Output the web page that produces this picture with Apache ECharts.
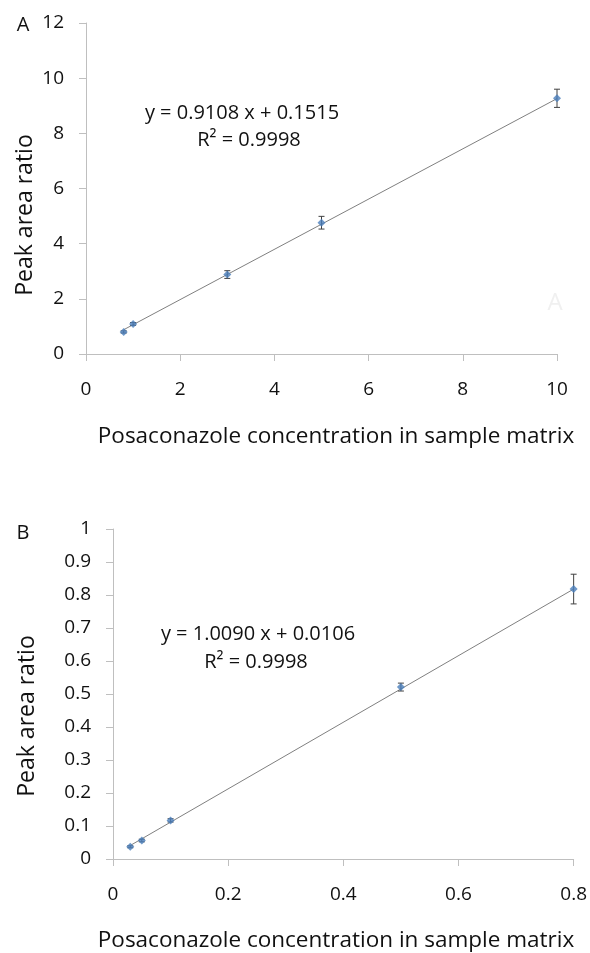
<!DOCTYPE html>
<html>
<head>
<meta charset="utf-8">
<script src="https://cdn.jsdelivr.net/npm/echarts@6/dist/echarts.min.js"></script>
<style>
  html, body { margin: 0; padding: 0; background: #fff; }
  #chart { width: 590px; height: 953px; }
</style>
</head>
<body>
<div id="chart"></div>
<script>
// panel A: calibration in sample matrix (high range)
var concA = [0.8, 1, 3, 5, 10];
var ratioA = [0.80, 1.09, 2.88, 4.76, 9.27];
var errA = [0.04, 0.05, 0.14, 0.23, 0.33];
var trendXA = [0.8, 10];
var trendYA = [0.88, 9.26];

// panel B: calibration in sample matrix (low range)
var concB = [0.03, 0.05, 0.1, 0.5, 0.8];
var ratioB = [0.037, 0.056, 0.117, 0.521, 0.818];
var errB = [0.003, 0.004, 0.005, 0.012, 0.045];
var trendXB = [0.03, 0.8];
var trendYB = [0.041, 0.818];

var eqA = ['y = 0.9108 x + 0.1515', 'R² = 0.9998'];
var eqB = ['y = 1.0090 x + 0.0106', 'R² = 0.9998'];
var xTitle = 'Posaconazole concentration in sample matrix';
var yTitle = 'Peak area ratio';

var FONT = '"Open Sans", sans-serif';
var AXIS_GRAY = '#bfbfbf';
var BLUE = '#4a7ebb';

function pairs(xs, ys) {
    return xs.map(function (x, i) { return [x, ys[i]]; });
}

function errData(xs, ys, es) {
    return xs.map(function (x, i) { return [x, ys[i] - es[i], ys[i] + es[i]]; });
}

// vertical error bar with caps
function renderErr(params, api) {
    var top = api.coord([api.value(0), api.value(2)]);
    var bot = api.coord([api.value(0), api.value(1)]);
    var w = 3;
    var st = { stroke: '#404040', lineWidth: 1 };
    return {
        type: 'group',
        children: [
            { type: 'line', shape: { x1: top[0], y1: top[1], x2: bot[0], y2: bot[1] }, style: st },
            { type: 'line', shape: { x1: top[0] - w, y1: top[1], x2: top[0] + w, y2: top[1] }, style: st },
            { type: 'line', shape: { x1: bot[0] - w, y1: bot[1], x2: bot[0] + w, y2: bot[1] }, style: st }
        ]
    };
}

function valAxis(idx, min, max, interval, isX) {
    return {
        type: 'value',
        gridIndex: idx,
        min: min,
        max: max,
        interval: interval,
        axisLine: { show: true, lineStyle: { color: AXIS_GRAY, width: 1 } },
        axisTick: { show: true, length: 7, lineStyle: { color: AXIS_GRAY } },
        splitLine: { show: false },
        axisLabel: {
            color: '#111',
            fontFamily: FONT,
            fontSize: 19,
            margin: isX ? 26 : 22
        }
    };
}

function txt(x, y, s, size, rot, fill) {
    return {
        type: 'text',
        x: x,
        y: y,
        rotation: rot || 0,
        style: {
            text: s,
            fill: fill || '#111',
            font: size + 'px ' + FONT,
            textAlign: 'center',
            textVerticalAlign: 'middle'
        }
    };
}

var chart = echarts.init(document.getElementById('chart'));

chart.setOption({
    backgroundColor: '#fff',
    animation: false,
    grid: [
        { left: 86, top: 23, width: 471, height: 331 },
        { left: 113, top: 529, width: 464, height: 330 }
    ],
    xAxis: [
        valAxis(0, 0, 10, 2, true),
        valAxis(1, 0, 0.8, 0.2, true)
    ],
    yAxis: [
        valAxis(0, 0, 12, 2, false),
        valAxis(1, 0, 1, 0.1, false)
    ],
    series: [
        {
            type: 'line', xAxisIndex: 0, yAxisIndex: 0,
            data: pairs(trendXA, trendYA),
            symbol: 'none', lineStyle: { color: '#808080', width: 1 }, z: 2
        },
        {
            type: 'custom', xAxisIndex: 0, yAxisIndex: 0,
            data: errData(concA, ratioA, errA),
            encode: { x: 0, y: [1, 2] },
            renderItem: renderErr, z: 3
        },
        {
            type: 'scatter', xAxisIndex: 0, yAxisIndex: 0,
            data: pairs(concA, ratioA),
            symbol: 'diamond', symbolSize: 8,
            itemStyle: { color: BLUE }, z: 4
        },
        {
            type: 'line', xAxisIndex: 1, yAxisIndex: 1,
            data: pairs(trendXB, trendYB),
            symbol: 'none', lineStyle: { color: '#808080', width: 1 }, z: 2
        },
        {
            type: 'custom', xAxisIndex: 1, yAxisIndex: 1,
            data: errData(concB, ratioB, errB),
            encode: { x: 0, y: [1, 2] },
            renderItem: renderErr, z: 3
        },
        {
            type: 'scatter', xAxisIndex: 1, yAxisIndex: 1,
            data: pairs(concB, ratioB),
            symbol: 'diamond', symbolSize: 8,
            itemStyle: { color: BLUE }, z: 4
        }
    ],
    graphic: [
        txt(23, 25, 'A', 20),
        txt(23, 533, 'B', 20),
        txt(555, 303, 'A', 24, 0, '#f0f0f0'),
        txt(242, 113, eqA[0], 20),
        txt(249, 140, eqA[1], 20),
        txt(258, 634, eqB[0], 20),
        txt(256, 662, eqB[1], 20),
        txt(336, 437, xTitle, 22.5),
        txt(336, 941, xTitle, 22.5),
        txt(25, 215, yTitle, 23, Math.PI / 2),
        txt(27, 716, yTitle, 23, Math.PI / 2)
    ]
});
</script>
</body>
</html>
